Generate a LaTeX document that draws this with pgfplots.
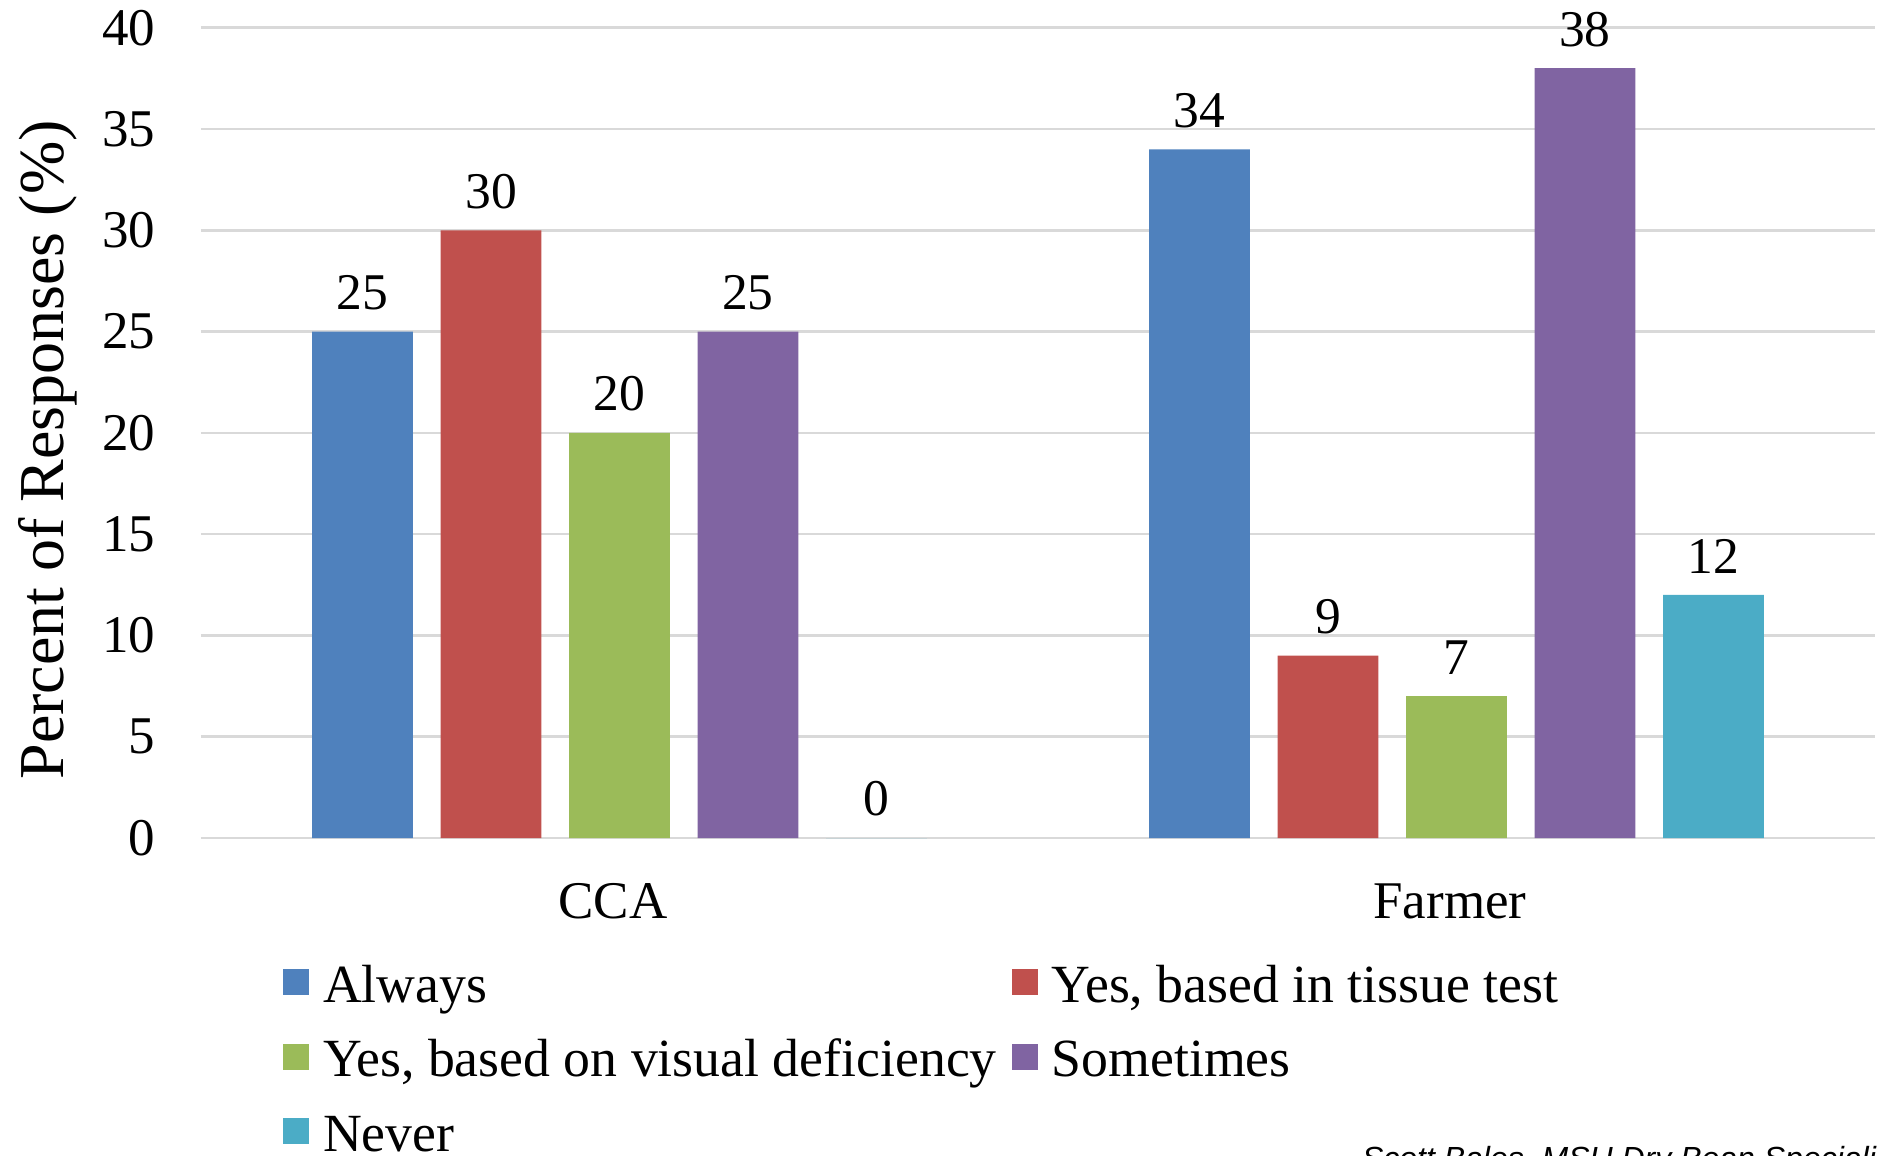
\documentclass[border=0pt]{standalone}
\usepackage{pgfplots}
\pgfplotsset{compat=1.18}
\usepackage{fontspec}
\setmainfont{Liberation Serif}
\setsansfont{Liberation Sans}
\definecolor{cBlue}{HTML}{4F81BD}
\definecolor{cRed}{HTML}{C0504D}
\definecolor{cGreen}{HTML}{9BBB59}
\definecolor{cPurple}{HTML}{8064A2}
\definecolor{cAqua}{HTML}{4BACC6}
\definecolor{gridgray}{HTML}{D9D9D9}
\pgfplotsset{sqlegend/.style={legend image code/.code={\fill[##1] (0pt,-1.1pt) rectangle (5.2pt,4.1pt);}}}
\begin{document}
\begin{tikzpicture}
\begin{scope}
\clip (0pt,0pt) rectangle (375.6pt,231pt);
\begin{axis}[
  at={(40.2pt,63.4pt)}, anchor=south west,
  scale only axis, width=334.8pt, height=162.06pt,
  xmin=-0.5, xmax=1.5, ymin=0, ymax=40,
  ytick={0,5,...,40},
  xtick={0,1}, xticklabels={CCA,Farmer},
  axis line style={draw=none},
  major tick length=0pt,
  tick style={draw=none},
  ymajorgrids,
  grid style={draw=gridgray, line width=0.5pt},
  /pgf/number format/assume math mode=true,
  ticklabel style={font=\fontsize{10.6}{12}\selectfont},
  yticklabel style={anchor=east, inner sep=0pt, xshift=-9pt},
  xticklabel style={anchor=base, inner sep=0pt, yshift=-16.1pt, xshift=-1.3pt},
  ylabel={Percent of Responses (\%)},
  ylabel style={at={(axis description cs:-0.0914,0.479)}, anchor=center, font=\fontsize{12.8}{14}\selectfont},
  ybar,
  bar width=0.1202,
  nodes near coords,
  every node near coord/.append style={font=\fontsize{10.3}{12}\selectfont, text=black, yshift=0.8pt},
  legend columns=2,
  legend cell align=left,
  legend style={at={(axis description cs:0.049,-0.1567)}, anchor=north west, draw=none, fill=none,
    inner sep=0pt, outer sep=0pt, font=\fontsize{10.75}{12}\selectfont,
    nodes={inner sep=0pt, text height=7.5pt, text depth=2.5pt},
    row sep=4.9pt,
    /tikz/every odd column/.append style={column sep=2.8pt},
    /tikz/every even column/.append style={column sep=3.0pt}},
]
\addplot[fill=cBlue, draw=none, bar shift=0pt, sqlegend] coordinates {(-0.307,25) (0.693,34)};
\addplot[fill=cRed, draw=none, bar shift=0pt, sqlegend] coordinates {(-0.1535,30) (0.8465,9)};
\addplot[fill=cGreen, draw=none, bar shift=0pt, sqlegend] coordinates {(0,20) (1,7)};
\addplot[fill=cPurple, draw=none, bar shift=0pt, sqlegend] coordinates {(0.1535,25) (1.1535,38)};
\addplot[fill=cAqua, draw=none, bar shift=0pt, sqlegend] coordinates {(0.307,0) (1.307,12)};
\legend{Always, {Yes, based in tissue test}, {Yes, based on visual deficiency}, Sometimes, Never}
\end{axis}
\node[anchor=base west, inner sep=0pt, font=\sffamily\itshape\fontsize{6.4}{7}\selectfont] at (272.2pt,-2.8pt) {Scott Bales, MSU Dry Bean Specialist};
\end{scope}
\pgfresetboundingbox
\path[use as bounding box] (0pt,0pt) rectangle (375.6pt,231pt);
\end{tikzpicture}
\end{document}
